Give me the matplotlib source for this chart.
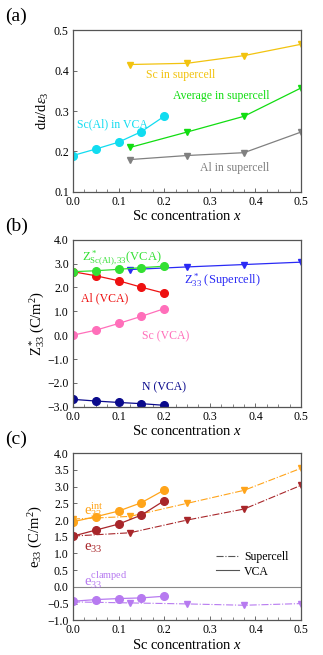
import matplotlib
matplotlib.use("Agg")
import matplotlib.pyplot as plt
from matplotlib.ticker import MultipleLocator, FormatStrFormatter, FuncFormatter
from matplotlib.lines import Line2D

plt.rcParams['font.family'] = ['Liberation Serif', 'DejaVu Serif']
plt.rcParams['mathtext.fontset'] = 'custom'
plt.rcParams['mathtext.rm'] = 'Liberation Serif'
plt.rcParams['mathtext.it'] = 'Liberation Serif:italic'
plt.rcParams['mathtext.bf'] = 'Liberation Serif:bold'

# ---------------- data ----------------
x_vca = [0.0, 0.05, 0.1, 0.15, 0.2]
x_sc_a = [0.125, 0.25, 0.375, 0.5]
x_sc = [0.0, 0.125, 0.25, 0.375, 0.5]

# (a) du/deps3
a_sc_super = [0.415, 0.418, 0.437, 0.465]
a_avg_super = [0.210, 0.248, 0.287, 0.357]
a_al_super = [0.180, 0.190, 0.197, 0.248]
a_scal_vca = [0.190, 0.206, 0.223, 0.249, 0.287]

# (b) Z*33
b_scal_vca = [2.66, 2.70, 2.76, 2.83, 2.89]
b_super = [2.75, 2.86, 2.96, 3.06]
b_al_vca = [2.66, 2.49, 2.28, 2.01, 1.76]
b_sc_vca = [0.00, 0.21, 0.49, 0.79, 1.11]
b_n_vca = [-2.69, -2.76, -2.82, -2.87, -2.94]

# (c) e33
c_int_vca = [1.95, 2.10, 2.27, 2.52, 2.90]
c_int_super = [2.03, 2.11, 2.50, 2.89, 3.55]
c_e33_vca = [1.52, 1.70, 1.88, 2.15, 2.58]
c_e33_super = [1.52, 1.62, 2.00, 2.33, 3.04]
c_cl_vca = [-0.43, -0.38, -0.35, -0.33, -0.28]
c_cl_super = [-0.45, -0.48, -0.51, -0.55, -0.50]

# colors
C_GOLD = '#f2c30f'
C_GREEN = '#11dd11'
C_GRAY = '#808080'
C_CYAN = '#11dcf0'
C_LGREEN = '#33e033'
C_RED = '#ee1111'
C_PINK = '#ff6fba'
C_NAVY = '#0a0a8c'
C_BLUE = '#2a2af5'
C_ORANGE = '#ffa41a'
C_BROWN = '#a8262a'
C_PURPLE = '#b77af0'

fig = plt.figure(figsize=(3.23, 6.55), dpi=100)
L, W = 0.226, 0.706
ax_a = fig.add_axes([L, 0.707, W, 0.247])
ax_b = fig.add_axes([L, 0.379, W, 0.255])
ax_c = fig.add_axes([L, 0.053, W, 0.255])

TICK = 8.5
LAB = 10.5
ANN = 8.5

minus_fmt = FuncFormatter(lambda v, p: ('\u2212%.1f' % -v) if v < -1e-9 else '%.1f' % abs(v))

def style(ax, ylo, yhi, ystep):
    ax.set_xlim(0, 0.5)
    ax.set_ylim(ylo, yhi)
    ax.xaxis.set_major_locator(MultipleLocator(0.1))
    ax.xaxis.set_minor_locator(MultipleLocator(0.025))
    ax.yaxis.set_major_locator(MultipleLocator(ystep))
    ax.xaxis.set_major_formatter(FormatStrFormatter('%.1f'))
    ax.yaxis.set_major_formatter(minus_fmt)
    ax.tick_params(which='both', direction='in', labelsize=TICK, color='#555555', pad=3)
    ax.tick_params(which='major', length=3, width=0.6)
    ax.tick_params(which='minor', length=2, width=0.5)
    for s in ax.spines.values():
        s.set_color('#555555')
        s.set_linewidth(0.9)
    ax.set_xlabel(r'Sc concentration $x$', fontsize=LAB, labelpad=1)

vkw = dict(marker='o', markersize=5.5, lw=0.9)
skw = dict(marker='v', markersize=4.5, lw=0.9)

# ---- (a)
style(ax_a, 0.1, 0.5, 0.1)
ax_a.plot(x_sc_a, a_sc_super, color=C_GOLD, **skw)
ax_a.plot(x_sc_a, a_avg_super, color=C_GREEN, **skw)
ax_a.plot(x_sc_a, a_al_super, color=C_GRAY, **skw)
ax_a.plot(x_vca, a_scal_vca, color=C_CYAN, **vkw)
ax_a.set_ylabel(r'd$u$/d$\epsilon_3$', fontsize=LAB, labelpad=2)
ax_a.text(0.235, 0.389, 'Sc in supercell', color=C_GOLD, fontsize=ANN, ha='center', va='center')
ax_a.text(0.326, 0.338, 'Average in supercell', color=C_GREEN, fontsize=ANN, ha='center', va='center')
ax_a.text(0.087, 0.268, 'Sc(Al) in VCA', color=C_CYAN, fontsize=ANN, ha='center', va='center')
ax_a.text(0.354, 0.159, 'Al in supercell', color=C_GRAY, fontsize=ANN, ha='center', va='center')

# ---- (b)
style(ax_b, -3.0, 4.0, 1.0)
ax_b.plot(x_sc_a, b_super, color=C_BLUE, **skw)
ax_b.plot(x_vca, b_al_vca, color=C_RED, **vkw)
ax_b.plot(x_vca, b_sc_vca, color=C_PINK, **vkw)
ax_b.plot(x_vca, b_n_vca, color=C_NAVY, **vkw)
ax_b.plot(x_vca, b_scal_vca, color=C_LGREEN, **vkw)
ax_b.set_ylabel(r'$\mathrm{Z}^*_{33}$ (C/m$^2$)', fontsize=LAB, labelpad=0)
ax_b.text(0.02, 3.22, r'$\mathrm{Z}^*_{\mathrm{Sc(Al),33}}$(VCA)', color=C_LGREEN, fontsize=ANN + 0.5, ha='left', va='center')
ax_b.text(0.07, 1.55, 'Al (VCA)', color=C_RED, fontsize=ANN, ha='center', va='center')
ax_b.text(0.203, -0.05, 'Sc (VCA)', color=C_PINK, fontsize=ANN, ha='center', va='center')
ax_b.text(0.2, -2.2, 'N (VCA)', color=C_NAVY, fontsize=ANN, ha='center', va='center')
ax_b.text(0.327, 2.3, r'$\mathrm{Z}^*_{33}$ (Supercell)', color=C_BLUE, fontsize=ANN + 0.5, ha='center', va='center')

# ---- (c)
style(ax_c, -1.0, 4.0, 0.5)
ax_c.axhline(0.0, color='#888888', lw=0.8)
dkw = dict(marker='v', markersize=4.5, lw=0.8, ls='-.')
ax_c.plot(x_sc, c_int_super, color=C_ORANGE, **dkw)
ax_c.plot(x_sc, c_e33_super, color=C_BROWN, **dkw)
ax_c.plot(x_sc, c_cl_super, color=C_PURPLE, **dkw)
ax_c.plot(x_vca, c_int_vca, color=C_ORANGE, **vkw)
ax_c.plot(x_vca, c_e33_vca, color=C_BROWN, **vkw)
ax_c.plot(x_vca, c_cl_vca, color=C_PURPLE, **vkw)
ax_c.set_ylabel(r'e$_{33}$ (C/m$^2$)', fontsize=LAB, labelpad=2)
ax_c.text(0.025, 2.3, r'$\mathrm{e}_{33}^{\mathrm{int}}$', color=C_ORANGE, fontsize=10.5, ha='left', va='center')
ax_c.text(0.025, 1.15, r'$\mathrm{e}_{33}$', color=C_BROWN, fontsize=10.5, ha='left', va='center')
ax_c.text(0.025, 0.2, r'$\mathrm{e}_{33}^{\mathrm{clamped}}$', color=C_PURPLE, fontsize=10.5, ha='left', va='center')
handles = [Line2D([], [], color='#555555', lw=0.8, ls='-.'),
           Line2D([], [], color='#555555', lw=0.8, ls='-')]
ax_c.legend(handles, ['Supercell', 'VCA'], loc='center right', bbox_to_anchor=(0.98, 0.335),
            frameon=False, fontsize=ANN, handlelength=2.0, handletextpad=0.4,
            labelspacing=0.2, borderpad=0.2)

for ax, lab, y in [(ax_a, '(a)', 0.975), (ax_b, '(b)', 0.655), (ax_c, '(c)', 0.33)]:
    fig.text(0.015, y, lab, fontsize=14, ha='left', va='center')

fig.savefig('out.png', dpi=100)
